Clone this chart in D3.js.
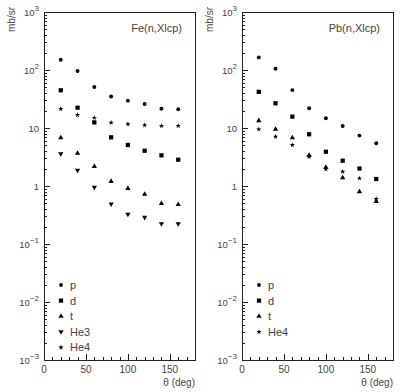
<!DOCTYPE html>
<html>
<head>
<meta charset="utf-8">
<script src="https://cdn.jsdelivr.net/npm/d3@7"></script>
<style>
html,body{margin:0;padding:0;background:#fff;}
svg{display:block;}
text{font-family:"Liberation Sans",Arial,sans-serif;fill:#444;}
</style>
</head>
<body>
<svg id="chart" width="415" height="392"></svg>
<script>
// ---- data ----
const angles = [20, 40, 60, 80, 100, 120, 140, 160];

const feP   = [150, 96, 51, 35, 29.6, 25.9, 21.5, 21];
const feD   = [44.7, 22.4, 12.5, 6.9, 5.1, 4.06, 3.38, 2.84];
const feT   = [6.8, 3.66, 2.18, 1.2, 0.91, 0.72, 0.5, 0.48];
const feHe3 = [3.6, 1.87, 0.95, 0.49, 0.325, 0.288, 0.224, 0.224];
const feHe4 = [21.4, 16.8, 15.0, 12.4, 11.7, 11.2, 10.9, 10.9];

const pbP   = [165, 105, 45, 21.9, 14.7, 10.8, 7.4, 5.45];
const pbD   = [42, 26.7, 15.7, 7.8, 3.9, 2.73, 2.0, 1.32];
const pbT   = [13.4, 9.5, 6.8, 3.4, 2.1, 1.39, 0.80, 0.54];
const pbHe4 = [9.5, 7.1, 5.1, 3.2, 1.95, 1.77, 1.36, 0.6];

const yExponents = [-3, -2, -1, 0, 1, 2, 3];
const xTickLabels = [0, 50, 100, 150];

const feSeries = [
  {name: "p",   values: feP,   sym: "circle"},
  {name: "d",   values: feD,   sym: "square"},
  {name: "t",   values: feT,   sym: "up"},
  {name: "He3", values: feHe3, sym: "down"},
  {name: "He4", values: feHe4, sym: "star"}
];
const pbSeries = [
  {name: "p",   values: pbP,   sym: "circle"},
  {name: "d",   values: pbD,   sym: "square"},
  {name: "t",   values: pbT,   sym: "up"},
  {name: "He4", values: pbHe4, sym: "star"}
];

const panels = [
  {title: "Fe(n,Xlcp)", series: feSeries, x0: 44,  x1: 195},
  {title: "Pb(n,Xlcp)", series: pbSeries, x0: 242, x1: 393}
];

const plotTop = 12, plotBottom = 360;
const svg = d3.select("#chart");

function symPath(kind) {
  switch (kind) {
    case "circle": return d3.symbol(d3.symbolCircle, 12)();
    case "square": return d3.symbol(d3.symbolSquare, 18)();
    case "up":     return d3.symbol(d3.symbolTriangle, 12)();
    case "down":   return d3.symbol(d3.symbolTriangle, 12)();
    case "star":   return d3.symbol(d3.symbolStar, 9)();
  }
}
function symTransform(kind, x, y) {
  return kind === "down" ? `translate(${x},${y}) rotate(180)` : `translate(${x},${y})`;
}

panels.forEach(p => {
  const x = d3.scaleLinear().domain([0, 180]).range([p.x0, p.x1]);
  const y = d3.scaleLog().domain([1e-3, 1e3]).range([plotBottom, plotTop]);
  const g = svg.append("g");

  // frame
  g.append("rect").attr("x", p.x0 + 0.5).attr("y", plotTop + 0.5)
    .attr("width", p.x1 - p.x0).attr("height", plotBottom - plotTop)
    .attr("fill", "none").attr("stroke", "#222").attr("stroke-width", 1);

  // y ticks (inward)
  const yTicks = [];
  for (let e = -3; e < 3; e++) {
    for (let m = 1; m <= 9; m++) yTicks.push({v: m * Math.pow(10, e), major: m === 1});
  }
  yTicks.push({v: 1000, major: true});
  g.selectAll(".yt").data(yTicks).enter().append("line")
    .attr("x1", p.x0).attr("x2", d => p.x0 + (d.major ? 6 : 3))
    .attr("y1", d => Math.round(y(d.v)) + 0.5).attr("y2", d => Math.round(y(d.v)) + 0.5)
    .attr("stroke", "#222").attr("stroke-width", 1);

  // y labels
  yExponents.forEach(e => {
    const t = g.append("text").attr("x", p.x0 - 5).attr("y", y(Math.pow(10, e)) + 4)
      .attr("text-anchor", "end").attr("font-size", 9.5);
    if (e === 0) t.text("1");
    else if (e === 1) t.text("10");
    else {
      t.append("tspan").text("10");
      t.append("tspan").attr("dy", -5).attr("font-size", 8).text(e < 0 ? "\u2212" + (-e) : e);
    }
  });

  // x ticks (inward)
  const xTicks = d3.range(0, 181, 10).map(v => ({v, major: v % 50 === 0}));
  g.selectAll(".xt").data(xTicks).enter().append("line")
    .attr("x1", d => Math.round(x(d.v)) + 0.5).attr("x2", d => Math.round(x(d.v)) + 0.5)
    .attr("y1", plotBottom).attr("y2", d => plotBottom - (d.major ? 6 : 3))
    .attr("stroke", "#222").attr("stroke-width", 1);
  g.selectAll(".xl").data(xTickLabels).enter().append("text")
    .attr("x", d => x(d)).attr("y", plotBottom + 13).attr("text-anchor", "middle")
    .attr("font-size", 10).text(d => d);

  // axis titles
  g.append("text").attr("x", p.x1).attr("y", plotBottom + 26).attr("text-anchor", "end")
    .attr("font-size", 10).text("\u03B8 (deg)");
  g.append("text").attr("transform", `translate(${p.x0 - 29},7) rotate(-90)`)
    .attr("text-anchor", "end").attr("font-size", 10).text("mb/sr");

  // panel title
  g.append("text").attr("x", p.x1 - 13).attr("y", 32).attr("text-anchor", "end")
    .attr("font-size", 11).text(p.title);

  // data points
  p.series.forEach(s => {
    g.selectAll(null).data(s.values).enter().append("path")
      .attr("d", symPath(s.sym))
      .attr("transform", (v, i) => symTransform(s.sym, x(angles[i]), y(v)))
      .attr("fill", "#000");
  });

  // legend
  const legY0 = 285, legStep = 15.6;
  p.series.forEach((s, i) => {
    const ly = legY0 + i * legStep;
    g.append("path").attr("d", symPath(s.sym))
      .attr("transform", symTransform(s.sym, p.x0 + 17, ly)).attr("fill", "#000");
    g.append("text").attr("x", p.x0 + 26).attr("y", ly + 4)
      .attr("font-size", 11).text(s.name);
  });
});
</script>
</body>
</html>
